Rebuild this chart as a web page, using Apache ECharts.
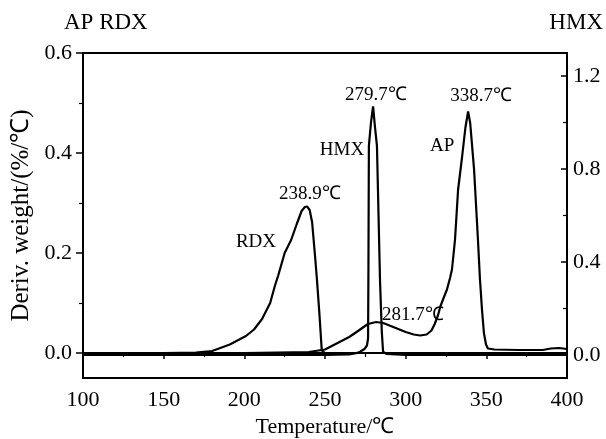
<!DOCTYPE html>
<html>
<head>
<meta charset="utf-8">
<script src="https://cdn.jsdelivr.net/npm/echarts@6/dist/echarts.min.js"></script>
<style>
html,body{margin:0;padding:0;background:#fff;}
#c{width:606px;height:439px;}
</style>
</head>
<body>
<div id="c"></div>
<script>
// Temperature ticks
const xTicks = [100, 150, 200, 250, 300, 350, 400];
const leftTicks = [0.0, 0.2, 0.4, 0.6];
const leftMinor = [0.1, 0.3, 0.5];
const rightTicks = [0.0, 0.4, 0.8, 1.2];
const rightMinor = [0.2, 0.6, 1.0];

// RDX (left axis) [T, deriv weight]
const rdxData = [[100,0],[130,0],[150,0],[170,0.001],[180,0.004],[191,0.017],[201,0.034],[206,0.047],
  [211,0.068],[216,0.1],[219,0.135],[221,0.155],[225,0.2],[229,0.226],[232.5,0.258],[235.5,0.284],
  [237.5,0.292],[238.9,0.293],[240.5,0.286],[242,0.262],[243.8,0.195],[245,0.147],[246.5,0.08],
  [248,0.005],[250,0],[300,0],[350,0],[400,0]];

// AP (left axis)
const apData = [[100,0],[150,0],[200,0],[240,0.002],[250,0.007],[259,0.022],[265,0.032],[270,0.043],
  [276.6,0.058],[281.7,0.062],[286,0.06],[290,0.055],[294.6,0.049],[300,0.042],[305,0.037],[309,0.035],
  [313,0.037],[316,0.045],[318,0.058],[320,0.075],[321.5,0.093],[323.5,0.11],[325.6,0.127],[327.5,0.15],
  [328.7,0.167],[330.6,0.227],[332.5,0.327],[335,0.393],[337,0.45],[338.7,0.483],[340,0.46],
  [342.4,0.367],[344.8,0.227],[346,0.15],[347.3,0.087],[348.5,0.04],[349.8,0.017],[351,0.009],
  [355,0.007],[370,0.006],[385,0.006],[390,0.009],[395,0.01],[400,0.008]];

// HMX (right axis)
const hmxData = [[100,0],[150,0],[200,0],[250,0],[265,0.002],[270,0.008],[272,0.014],[274.5,0.025],
  [276,0.04],[276.7,0.07],[276.9,0.34],[277.2,0.9],[278.5,1.0],[279.8,1.07],[281,0.98],[282.2,0.9],
  [284.1,0.32],[285.2,0.1],[286,0.013],[288,0.004],[300,0],[350,0],[400,0]];

// annotation texts and their anchor values
const rdxNotes = [{t:'238.9℃', at:[240.7,0.317]}, {t:'RDX', at:[207.2,0.221]}];
const apNotes = [{t:'338.7℃', at:[346.7,0.513]}, {t:'AP', at:[322.6,0.413]}, {t:'281.7℃', at:[304.5,0.075]}];
const hmxNotes = [{t:'279.7℃', at:[281.6,1.12]}, {t:'HMX', at:[260.5,0.884]}];

const FONT = '"Liberation Serif", "Times New Roman", serif';
const fmt1 = v => Number(v).toFixed(1);

function notes(list, size) {
  return {
    symbol: 'circle', symbolSize: 1, silent: true, animation: false,
    itemStyle: {color: 'rgba(0,0,0,0)'},
    label: {show: true, position: 'inside', color: '#000', fontFamily: FONT, fontSize: size,
            formatter: p => p.name},
    data: list.map(n => ({name: n.t, coord: n.at}))
  };
}

const chart = echarts.init(document.getElementById('c'), null, {renderer: 'canvas'});
const axisLine = {show: true, lineStyle: {color: '#000', width: 2}};
chart.setOption({
  animation: false,
  backgroundColor: '#fff',
  grid: {left: 83, right: 39, top: 53, bottom: 61, containLabel: false, outerBoundsMode: 'none',
         show: true, borderColor: '#000', borderWidth: 2, backgroundColor: 'transparent'},
  xAxis: {
    type: 'value', min: 100, max: 400, interval: 50,
    name: 'Temperature/℃', nameLocation: 'middle', nameGap: 35,
    nameTextStyle: {fontFamily: FONT, fontSize: 22, color: '#000'},
    axisLine: axisLine,
    axisTick: {show: true, length: 6, lineStyle: {color: '#000', width: 1.5}},
    minorTick: {show: true, splitNumber: 2, length: 4, lineStyle: {color: '#000', width: 1.2}},
    axisLabel: {fontFamily: FONT, fontSize: 22, color: '#000', margin: 11, showMinLabel: true, showMaxLabel: true},
    splitLine: {show: false}
  },
  yAxis: [
    {
      type: 'value', position: 'left', min: -0.05, max: 0.6,
      name: 'Deriv. weight/(%/℃)', nameLocation: 'middle', nameGap: 49,
      nameTextStyle: {fontFamily: FONT, fontSize: 25, color: '#000'},
      axisLine: axisLine,
      axisTick: {show: true, length: 7, customValues: leftTicks, lineStyle: {color: '#000', width: 1.5}},
      axisLabel: {customValues: leftTicks, formatter: fmt1, fontFamily: FONT, fontSize: 22, color: '#000', margin: 11},
      splitLine: {show: false}
    },
    {
      type: 'value', position: 'right', min: -0.1, max: 1.3,
      axisLine: axisLine,
      axisTick: {show: true, inside: true, length: 6, customValues: rightTicks, lineStyle: {color: '#000', width: 1.5}},
      axisLabel: {customValues: rightTicks, formatter: fmt1, fontFamily: FONT, fontSize: 22, color: '#000', margin: 6},
      splitLine: {show: false}
    },
    {
      type: 'value', position: 'left', min: -0.05, max: 0.6,
      axisLine: {show: false},
      axisTick: {show: true, length: 4, customValues: leftMinor, lineStyle: {color: '#000', width: 1.2}},
      axisLabel: {show: false}, splitLine: {show: false}
    },
    {
      type: 'value', position: 'right', min: -0.1, max: 1.3,
      axisLine: {show: false},
      axisTick: {show: true, inside: true, length: 4, customValues: rightMinor, lineStyle: {color: '#000', width: 1.2}},
      axisLabel: {show: false}, splitLine: {show: false}
    }
  ],
  graphic: [
    {type: 'text', left: 64, top: 11, style: {text: 'AP RDX', fontFamily: FONT, fontSize: 23, fill: '#000'}},
    {type: 'text', right: 3, top: 11, style: {text: 'HMX', fontFamily: FONT, fontSize: 23, fill: '#000'}}
  ],
  series: [
    {name: 'RDX', type: 'line', yAxisIndex: 0, data: rdxData, showSymbol: false, symbol: 'none',
     lineStyle: {color: '#000', width: 2.2}, markPoint: notes(rdxNotes, 19)},
    {name: 'AP', type: 'line', yAxisIndex: 0, data: apData, showSymbol: false, symbol: 'none',
     lineStyle: {color: '#000', width: 2.2}, markPoint: notes(apNotes, 19)},
    {name: 'HMX', type: 'line', yAxisIndex: 1, data: hmxData, showSymbol: false, symbol: 'none',
     lineStyle: {color: '#000', width: 2.2}, markPoint: notes(hmxNotes, 19)}
  ]
});
</script>
</body>
</html>
